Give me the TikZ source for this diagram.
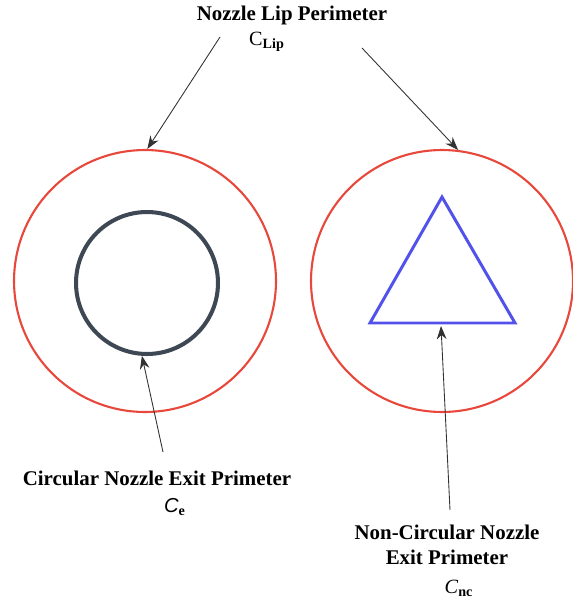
\documentclass[tikz,border=0pt]{standalone}
\usepackage{fontspec}
\setmainfont{Liberation Serif}
\newfontfamily\sansfont{Liberation Sans}
\definecolor{lipred}{RGB}{232,72,60}
\definecolor{exitgray}{RGB}{62,72,84}
\definecolor{triblue}{RGB}{82,82,235}
\definecolor{arrowgray}{RGB}{50,50,50}
\usetikzlibrary{arrows.meta,positioning}

\begin{document}
\begin{tikzpicture}[x=0.02cm, y=-0.02cm,
    lipcircle/.style={circle, draw=lipred, line width=1.2pt, minimum size=5.24cm, inner sep=0pt},
    exitcircle/.style={circle, draw=exitgray, line width=2.3pt, minimum size=2.84cm, inner sep=0pt},
    caption/.style={font=\bfseries\fontsize{11.9}{14.2}\selectfont, align=center, inner sep=1pt},
    symb/.style={font=\fontsize{11.5}{13}\selectfont, inner sep=1pt},
    pointer/.style={-{Stealth[length=7.5pt,width=5.5pt]}, arrowgray, line width=0.5pt}
  ]
    \useasboundingbox (0,0) rectangle (573,605);

    % Title
    \node[caption] (title) at (292,15) {Nozzle Lip Perimeter};
    \node[symb] (clip) at (267,42) {C\textsubscript{\textbf{Lip}}};

    % Lip circles
    \node[lipcircle] (lipL) at (145,281) {};
    \node[lipcircle] (lipR) at (442,281) {};

    % Circular exit
    \node[exitcircle] (exitC) at (147,283) {};

    % Non-circular exit
    \coordinate (triA) at (442,197);
    \coordinate (triB) at (370,323);
    \coordinate (triC) at (515,323);
    \draw[triblue, line width=1.7pt, line join=miter] (triA) -- (triB) -- (triC) -- cycle;
    \coordinate (tribase) at (441,326);

    % Labels
    \node[caption] (circlbl) at (157,478) {Circular Nozzle Exit Primeter};
    \node[symb] (ce) at (175,507) {{\sansfont\itshape C}\textsubscript{\textbf{e}}};
    \node[caption] (noncirclbl) at (447,545) {Non-Circular Nozzle\\Exit Primeter};
    \node[symb] (cnc) at (459,588) {\textit{C}\textsubscript{\textbf{nc}}};

    % Arrows
    \coordinate (lipArrowL) at (220,37);
    \coordinate (lipArrowR) at (362,48);
    \coordinate (exitArrowC) at (163,452);
    \coordinate (exitArrowT) at (450,510);
    \draw[pointer] (lipArrowL) -- (lipL.89);
    \draw[pointer] (lipArrowR) -- (lipR.83);
    \draw[pointer] (exitArrowC) -- (exitC.266);
    \draw[pointer] (exitArrowT) -- (tribase);
\end{tikzpicture}
\end{document}
